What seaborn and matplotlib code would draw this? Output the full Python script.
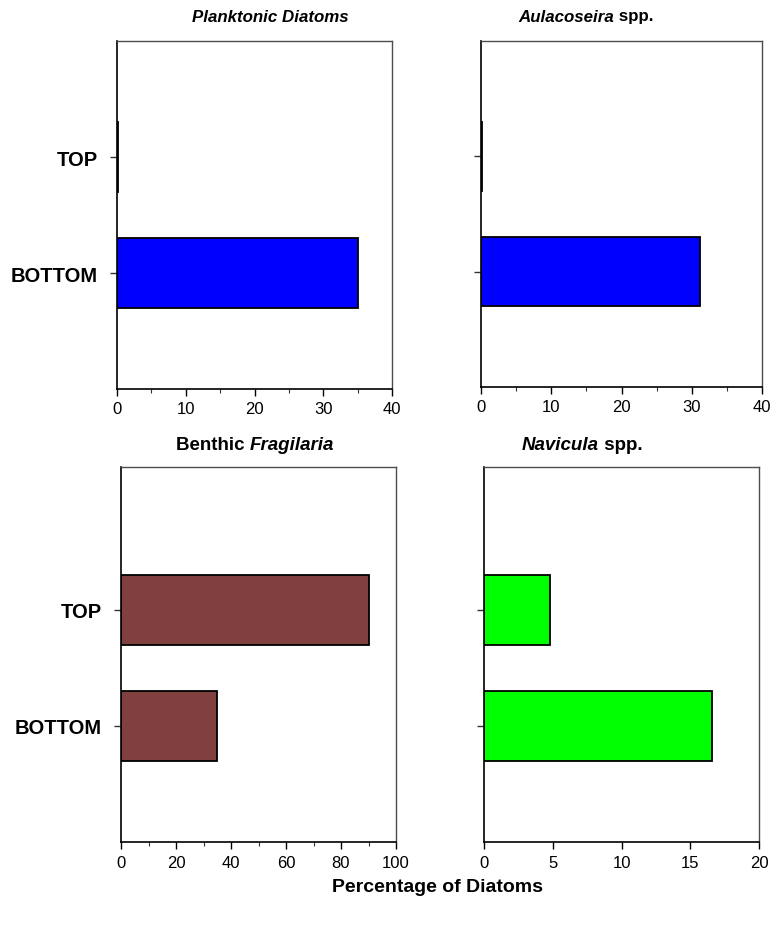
import numpy as np
import pandas as pd
import seaborn as sns
import matplotlib
matplotlib.use("Agg")
import matplotlib.pyplot as plt
from matplotlib.ticker import MultipleLocator, NullLocator

# Sediment levels and diatom percentages per group
levels = ["TOP", "BOTTOM"]
planktonic = [0.15, 35.0]
aulacoseira = [0.2, 31.2]
benthic_fragilaria = [90.0, 35.0]
navicula = [4.8, 16.6]

xmax_values = [40, 40, 100, 20]
major_steps = [10, 10, 20, 5]
minor_steps = [5, 5, 10, None]
bar_colors = ["#0000FF", "#0000FF", "#804040", "#00FF00"]

sns.set_theme(style="white")
plt.rcParams["font.family"] = ["Liberation Sans", "DejaVu Sans"]
SANS = ["Liberation Sans", "DejaVu Sans"]

W, H = 772, 928
fig = plt.figure(figsize=(W / 100, H / 100), dpi=100)
fig.patch.set_facecolor("white")


def px_axes(left, top, right, bottom):
    return fig.add_axes([left / W, 1 - bottom / H, (right - left) / W, (bottom - top) / H])


boxes = [(117, 42, 392, 390), (481, 42, 762, 388), (121, 468, 396, 843), (484, 468, 759, 843)]
top_limits = [-1.0, -1.0, -1.23, -1.23]
series = [planktonic, aulacoseira, benthic_fragilaria, navicula]
show_ylabels = [True, False, True, False]

for i in range(4):
    ax = px_axes(*boxes[i])
    df = pd.DataFrame({"level": levels, "pct": series[i]})
    sns.barplot(data=df, x="pct", y="level", order=levels, color=bar_colors[i],
                saturation=1, width=0.6, edgecolor="black", linewidth=1.3,
                errorbar=None, ax=ax)
    ax.set_xlim(0, xmax_values[i])
    ax.set_ylim(2.0, top_limits[i])
    ax.xaxis.set_major_locator(MultipleLocator(major_steps[i]))
    if minor_steps[i]:
        ax.xaxis.set_minor_locator(MultipleLocator(minor_steps[i]))
    else:
        ax.xaxis.set_minor_locator(NullLocator())
    ax.set_xlabel("")
    ax.set_ylabel("")
    ax.tick_params(axis="x", which="major", direction="out", length=5, width=1,
                   color="black", labelsize=12, pad=4, bottom=True)
    ax.tick_params(axis="x", which="minor", direction="out", length=3, width=0.8,
                   color="#333333", bottom=True)
    ax.tick_params(axis="y", which="major", direction="out", length=5, width=1,
                   color="#333333", left=True, pad=9)
    if show_ylabels[i]:
        for lab in ax.get_yticklabels():
            lab.set_fontsize(14.5)
            lab.set_fontweight("bold")
            lab.set_color("black")
            lab.set_va("center_baseline")
    else:
        ax.set_yticklabels([])
    for lab in ax.get_xticklabels():
        lab.set_color("black")
    for side in ["left", "bottom"]:
        ax.spines[side].set_color("black")
        ax.spines[side].set_linewidth(1.2)
    for side in ["top", "right"]:
        ax.spines[side].set_color("#4d4d4d")
        ax.spines[side].set_linewidth(1.0)
    ax.set_facecolor("white")


renderer = fig.canvas.get_renderer()


def centered_rich_text(cx, cy, segments, size, family):
    """Place text segments of mixed style side by side, centred at (cx, cy) in pixels."""
    texts = []
    for s, style in segments:
        t = fig.text(0, 1 - cy / H, s, fontsize=size, fontweight="bold", fontstyle=style,
                     family=family, ha="left", va="center", color="black",
                     transform=fig.transFigure)
        texts.append(t)
    widths = [t.get_window_extent(renderer).width for t in texts]
    x = cx - sum(widths) / 2
    for t, w in zip(texts, widths):
        t.set_x(x / W)
        x += w


centered_rich_text(270, 17, [("Planktonic Diatoms", "italic")], 12.2, SANS)
centered_rich_text(586, 17, [("Aulacoseira", "italic"), (" spp.", "normal")], 12.2, SANS)
centered_rich_text(255, 446, [("Benthic ", "normal"), ("Fragilaria", "italic")], 13.5, SANS)
centered_rich_text(582, 446, [("Navicula", "italic"), (" spp.", "normal")], 13.5, SANS)

fig.text(437 / W, 1 - 888 / H, "Percentage of Diatoms", fontsize=14, fontweight="bold",
         family=SANS, ha="center", va="center", color="black")

fig.savefig("out.png", dpi=100, facecolor="white")
